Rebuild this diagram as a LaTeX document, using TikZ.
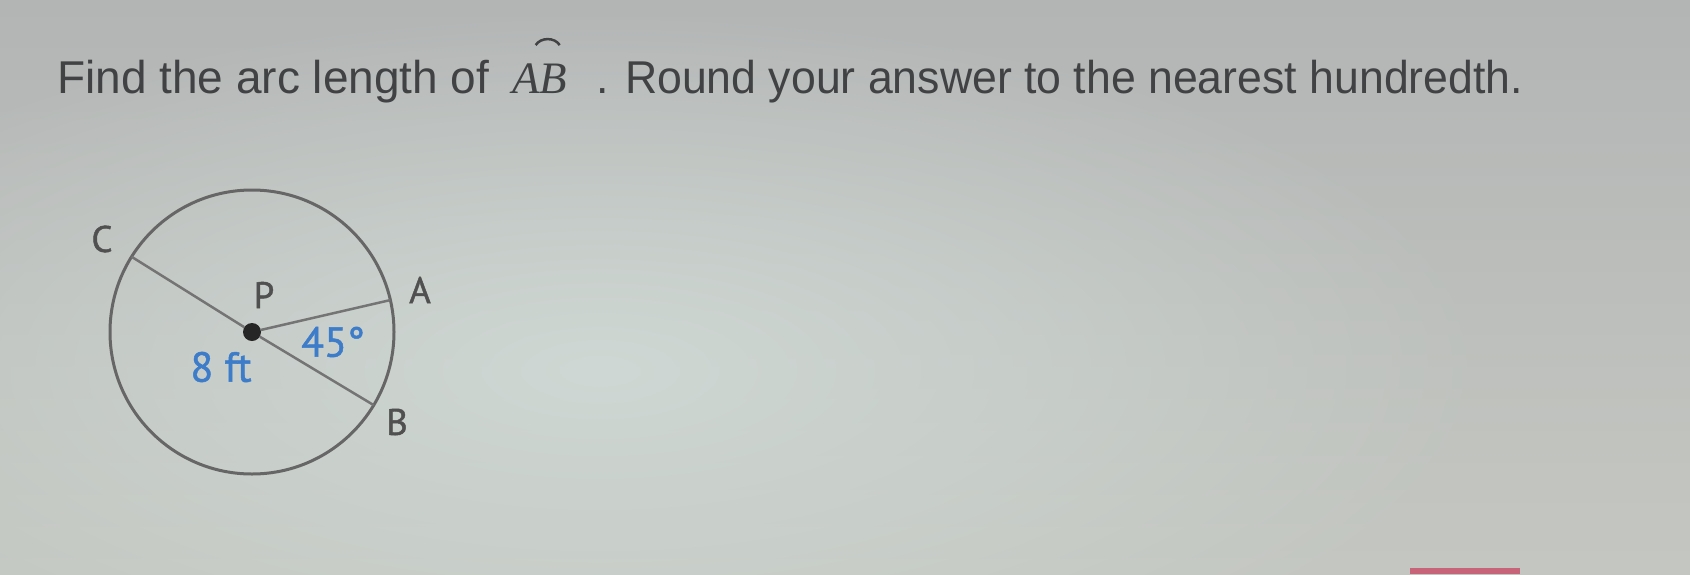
\documentclass[tikz,border=0pt]{standalone}
\usepackage{fontspec}
\setmainfont{Liberation Sans}
\newfontfamily\lblfont[FakeBold=1.2]{PT Sans}
\newfontfamily\serifit{Liberation Serif}
\usetikzlibrary{fadings}
\definecolor{bgtop}{HTML}{B3B5B5}
\definecolor{bgbottom}{HTML}{C4C7C1}
\definecolor{bgspot}{HTML}{CFD8D4}
\definecolor{titlegray}{HTML}{404244}
\definecolor{labelgray}{HTML}{505050}
\definecolor{measureblue}{HTML}{3D7CC9}
\definecolor{rimgray}{HTML}{666666}
\definecolor{radgray}{HTML}{747474}
\definecolor{barred}{HTML}{C8647A}
\tikzfading[name=softspot, inner color=transparent!0, outer color=transparent!100]
\begin{document}
\begin{tikzpicture}[x=1pt,y=-1pt,
  title/.style={text=titlegray, font=\fontsize{46}{50}\selectfont, inner sep=0pt, anchor=base west},
  mathlbl/.style={text=titlegray, font=\serifit\itshape\fontsize{45}{48}\selectfont, inner sep=0pt, anchor=base west},
  arcmark/.style={draw=titlegray, line width=2.5pt},
  ptlabel/.style={text=labelgray, font=\lblfont\fontsize{37}{40}\selectfont, inner sep=0pt},
  measure/.style={text=measureblue, font=\lblfont\fontsize{42}{46}\selectfont, inner sep=0pt},
  rim/.style={circle, draw=rimgray, line width=3pt, minimum size=284pt, inner sep=0pt, outer sep=0pt},
  radseg/.style={draw=radgray, line width=2.5pt},
  centerdot/.style={circle, fill=black!85, minimum size=18pt, inner sep=0pt},
]
\useasboundingbox (0,0) rectangle (1690,574);
% background
\begin{scope}[y=1pt]
  \shade[top color=bgtop, bottom color=bgbottom] (0,0) rectangle (1690,-574);
  \fill[bgspot, path fading=softspot] (600,-370) ellipse [x radius=900, y radius=360];
\end{scope}

% title
\node[title] (t1) at (57,93) {Find the arc length of};
\node[mathlbl] (ab) at (512,93) {AB};
\draw[arcmark] ([xshift=-4pt,yshift=18pt]ab.north) .. controls +(5pt,8pt) and +(-5pt,8pt) .. ([xshift=20pt,yshift=18pt]ab.north);
\node[title] (t2) at (596,93) {\scalebox{0.97}[1]{. Round your answer to the nearest hundredth.}};

% circle
\node[rim] (circ) at (252,332) {};
\node[centerdot] (P) at (252,332) {};
\draw[radseg] (P) -- (circ.148.5);
\draw[radseg] (P) -- (circ.-31);
\draw[radseg] (P) -- (circ.13);

% labels
\node[ptlabel] (Clbl) at (102,239) {C};
\node[ptlabel] (Plbl) at (264,295) {P};
\node[ptlabel] (Albl) at (420,290) {A};
\node[ptlabel] (Blbl) at (397,422) {B};
\node[measure] (rlbl) at (221,367) {8 ft};
\node[measure] (anglbl) at (333,342) {45°};

% button edge
\fill[barred] (1410,568) rectangle (1520,574);
\end{tikzpicture}
\end{document}
